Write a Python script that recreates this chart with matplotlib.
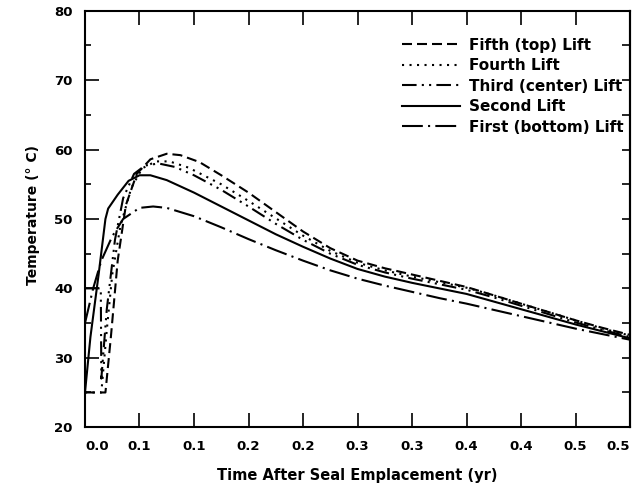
import numpy as np
import matplotlib
matplotlib.use("Agg")
import matplotlib.pyplot as plt

plt.rcParams['font.family'] = ['DejaVu Sans']
plt.rcParams['font.weight'] = 'bold'

# time in days (axis labelled in years)
fifth_t = [0, 7.5, 9.5, 12, 15, 19, 24, 30, 35, 42, 50, 60, 70, 80, 90, 100, 110, 120, 130, 140, 150, 160, 170, 180, 190, 200]
fifth_T = [25, 25, 33, 44, 52, 56.5, 58.6, 59.4, 59.2, 58.2, 56.3, 53.8, 51, 48.2, 45.8, 44, 42.9, 42.0, 41.1, 40.2, 39.0, 37.8, 36.6, 35.4, 34.3, 33.3]

fourth_t = [0, 6, 8, 10, 13, 17, 21, 26, 31, 38, 50, 60, 70, 80, 90, 100, 110, 120, 130, 140, 150, 160, 170, 180, 190, 200]
fourth_T = [25, 25, 34, 42, 49, 54.5, 57.3, 58.3, 58.3, 57.4, 55.0, 52.6, 50.1, 47.6, 45.4, 43.7, 42.6, 41.7, 40.9, 40.1, 39.0, 37.8, 36.6, 35.4, 34.2, 33.2]

third_t = [0, 5.8, 6.0, 8, 11, 14, 18, 22, 27, 33, 40, 50, 60, 70, 80, 90, 100, 110, 120, 130, 140, 150, 160, 170, 180, 190, 200]
third_T = [40, 40, 27, 37, 47, 53, 56.5, 57.7, 58, 57.5, 56.3, 54.2, 51.8, 49.3, 47.0, 45.0, 43.4, 42.3, 41.4, 40.6, 39.8, 38.7, 37.5, 36.3, 35.1, 34.0, 33.0]

second_t = [0, 2, 5, 7.5, 8.5, 12, 16, 20, 24, 30, 40, 50, 60, 70, 80, 90, 100, 110, 120, 130, 140, 150, 160, 170, 180, 190, 200]
second_T = [25, 33, 42, 50, 51.5, 53.5, 55.5, 56.3, 56.3, 55.6, 53.8, 51.8, 49.8, 47.8, 46.0, 44.3, 42.8, 41.7, 40.8, 40.0, 39.2, 38.1, 37.0, 35.9, 34.8, 33.8, 32.8]

first_t = [0, 3, 6, 10, 14, 20, 25, 30, 40, 50, 60, 70, 80, 90, 100, 110, 120, 130, 140, 150, 160, 170, 180, 190, 200]
first_T = [35, 40, 44, 47.5, 50, 51.6, 51.8, 51.6, 50.4, 48.8, 47.1, 45.5, 44.0, 42.6, 41.4, 40.4, 39.5, 38.6, 37.8, 36.9, 36.0, 35.1, 34.2, 33.4, 32.6]

labels = ["Fifth (top) Lift", "Fourth Lift", "Third (center) Lift", "Second Lift", "First (bottom) Lift"]
styles = [(0, (4.8, 2.4)), (0, (1.0, 2.6)), (0, (7, 2.5, 1, 2.5, 1, 2.5)), '-', (0, (10, 2.5, 1, 2.5))]

xtick_days = list(range(0, 201, 20))
yticks = [20, 30, 40, 50, 60, 70, 80]

fig = plt.figure(figsize=(6.39, 4.91), dpi=100)
ax = fig.add_axes([0.133, 0.130, 0.853, 0.848])

series = [(fifth_t, fifth_T), (fourth_t, fourth_T), (third_t, third_T), (second_t, second_T), (first_t, first_T)]
for (t, T), lab, ls in zip(series, labels, styles):
    ax.plot(np.array(t) / 365.0, T, color='black', lw=1.5, linestyle=ls, label=lab)

ax.set_xlim(0, 200 / 365.0)
ax.set_ylim(20, 80)
xt = [d / 365.0 for d in xtick_days]
ax.set_xticks(xt)
ax.set_xticklabels([f"{v:.1f}" for v in xt])
ax.set_yticks(yticks)
ax.set_yticks(range(25, 80, 10), minor=True)
ax.tick_params(axis='x', direction='in', length=10, width=1.2, pad=9, labelsize=9.5, top=True)
ax.tick_params(axis='y', which='major', direction='in', length=10, width=1.2, pad=9, labelsize=9.5)
ax.tick_params(axis='y', which='minor', direction='in', length=4.5, width=1.2)
for lbl in ax.get_xticklabels() + ax.get_yticklabels():
    lbl.set_fontweight('bold')
xl = ax.get_xticklabels()
xl[0].set_ha('left')
xl[-1].set_ha('right')

sec = ax.secondary_yaxis('right')
sec.set_yticks(range(20, 81, 5))
sec.tick_params(direction='in', length=6, width=1.2, labelright=False)
sec.spines['right'].set_linewidth(1.5)

for s in ax.spines.values():
    s.set_linewidth(1.5)

ax.set_xlabel("Time After Seal Emplacement (yr)", fontsize=10.5, fontweight='bold', labelpad=11)
ax.set_ylabel("Temperature (° C)", fontsize=10, fontweight='bold', labelpad=6)
ax.yaxis.set_label_coords(-0.083, 0.51)

leg = ax.legend(loc='upper right', bbox_to_anchor=(1.0, 0.95), frameon=False,
                handlelength=3.8, handletextpad=0.6, labelspacing=0.36,
                prop={'weight': 'bold', 'size': 11}, borderaxespad=0)

fig.savefig("out.png", dpi=100)
